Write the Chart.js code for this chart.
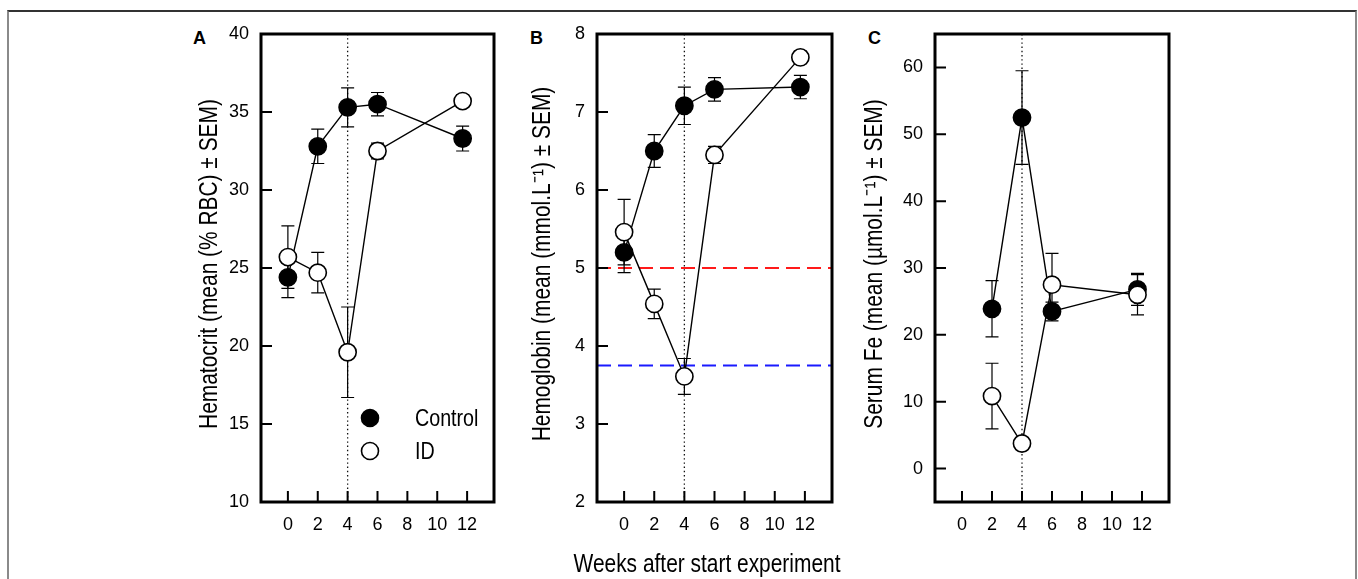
<!DOCTYPE html>
<html>
<head>
<meta charset="utf-8">
<script src="https://cdn.jsdelivr.net/npm/chart.js@4.4.1/dist/chart.umd.min.js"></script>
<style>
  body { margin: 0; background: #fff; font-family: 'Liberation Sans', Arial, sans-serif; }
  #marco { position: absolute; left: 7px; top: 10px; width: 1346px; height: 600px;
           border-top: 2px solid #333; border-left: 2px solid #8a8a8a; border-right: 2px solid #8a8a8a; }
  canvas { position: absolute; top: 0; }
  .letra { position: absolute; top: 29px; font-weight: bold; font-size: 18px; line-height: 18px; }
  #tituloX { position: absolute; top: 551px; left: 507px; width: 400px; text-align: center;
             font-size: 25.5px; line-height: 25.5px; white-space: nowrap;
             transform: scaleX(0.82); transform-origin: 50% 50%; }
</style>
</head>
<body>
<div id="marco"></div>
<div class="letra" style="left:193px">A</div>
<div class="letra" style="left:530px">B</div>
<div class="letra" style="left:868px">C</div>
<canvas id="graficaHematocrito" width="360" height="579" style="left:150px"></canvas>
<canvas id="graficaHemoglobina" width="350" height="579" style="left:510px"></canvas>
<canvas id="graficaHierro" width="330" height="579" style="left:860px"></canvas>
<div id="tituloX">Weeks after start experiment</div>
<script>
// semanas del experimento (la ultima medida cae un poco antes de la semana 12)
const semanas = [0, 2, 4, 6, 11.7];
const semanasHierro = [2, 4, 6, 11.7];
const ticksSemanas = [0, 2, 4, 6, 8, 10, 12];
const semanaCambio = 4;

const hematocritoControl = [24.4, 32.8, 35.3, 35.5, 33.3];
const hematocritoControlSem = [1.3, 1.1, 1.25, 0.75, 0.8];
const hematocritoId = [25.7, 24.7, 19.6, 32.5, 35.7];
const hematocritoIdSem = [2.0, 1.3, 2.9, 0.5, 0.4];
const ticksHematocrito = [10, 15, 20, 25, 30, 35, 40];

const hemoglobinaControl = [5.2, 6.5, 7.08, 7.29, 7.32];
const hemoglobinaControlSem = [0.26, 0.21, 0.24, 0.15, 0.15];
const hemoglobinaId = [5.46, 4.54, 3.61, 6.45, 7.7];
const hemoglobinaIdSem = [0.42, 0.19, 0.23, 0.11, 0.08];
const ticksHemoglobina = [2, 3, 4, 5, 6, 7, 8];
const umbralesHemoglobina = [5.0, 3.75];
const coloresUmbral = ['#ff1a1a', '#1a1aff'];

const hierroControl = [23.9, 52.5, 23.5, 26.8];
const hierroControlSem = [4.2, 7.0, 1.4, 2.4];
const hierroId = [10.85, 3.75, 27.5, 26.0];
const hierroIdSem = [4.9, 0.8, 4.7, 3.0];
const ticksHierro = [0, 10, 20, 30, 40, 50, 60];

const fuente = "'Liberation Sans', Arial, sans-serif";

// texto estrecho (el original usa una letra condensada en titulos y leyenda)
function textoEstrecho(ctx, texto, x, y, tam, giro, alineado) {
  ctx.save();
  ctx.translate(x, y);
  if (giro) ctx.rotate(-Math.PI / 2);
  ctx.scale(0.82, 1);
  ctx.font = tam + 'px ' + fuente;
  ctx.textAlign = alineado;
  ctx.textBaseline = 'middle';
  ctx.fillStyle = '#000';
  ctx.fillText(texto, 0, 0);
  ctx.restore();
}

// lineas de referencia, barras de error, marco, ticks hacia dentro, titulo y leyenda
const decoracion = {
  id: 'decoracion',
  beforeDatasetsDraw(chart, args, opts) {
    const { ctx, chartArea: a, scales: { x, y } } = chart;
    ctx.save();
    ctx.beginPath();
    ctx.rect(a.left, a.top, a.width, a.height);
    ctx.clip();

    (opts.umbrales || []).forEach((v, i) => {
      const py = y.getPixelForValue(v);
      ctx.strokeStyle = opts.colores[i];
      ctx.lineWidth = 2;
      ctx.setLineDash([14, 7]);
      ctx.beginPath();
      ctx.moveTo(a.left, py);
      ctx.lineTo(a.right, py);
      ctx.stroke();
    });

    const px = x.getPixelForValue(semanaCambio);
    ctx.strokeStyle = '#111';
    ctx.lineWidth = 1.3;
    ctx.setLineDash([1.4, 2.8]);
    ctx.beginPath();
    ctx.moveTo(px, a.top);
    ctx.lineTo(px, a.bottom);
    ctx.stroke();

    ctx.setLineDash([]);
    ctx.strokeStyle = '#000';
    ctx.lineWidth = 1.2;
    chart.data.datasets.forEach(ds => {
      ds.data.forEach((p, i) => {
        const e = ds.errores[i];
        const cx = x.getPixelForValue(p.x);
        const y1 = y.getPixelForValue(p.y + e);
        const y2 = y.getPixelForValue(p.y - e);
        ctx.beginPath();
        ctx.moveTo(cx, y1); ctx.lineTo(cx, y2);
        ctx.moveTo(cx - 6.5, y1); ctx.lineTo(cx + 6.5, y1);
        ctx.moveTo(cx - 6.5, y2); ctx.lineTo(cx + 6.5, y2);
        ctx.stroke();
      });
    });
    ctx.restore();
  },
  afterDraw(chart, args, opts) {
    const { ctx, chartArea: a, scales: { x, y } } = chart;
    ctx.save();
    ctx.strokeStyle = '#000';
    ctx.lineWidth = 2;
    ctx.beginPath();
    ticksSemanas.forEach(v => {
      const px = x.getPixelForValue(v);
      ctx.moveTo(px, a.bottom);
      ctx.lineTo(px, a.bottom - 11);
    });
    y.ticks.forEach(t => {
      const py = y.getPixelForValue(t.value);
      ctx.moveTo(a.left, py);
      ctx.lineTo(a.left + 11, py);
    });
    ctx.stroke();

    ctx.lineWidth = 3;
    ctx.strokeRect(a.left, a.top, a.width, a.height);

    textoEstrecho(ctx, opts.titulo, opts.centroTitulo, (a.top + a.bottom) / 2 - 4, 25.5, true, 'center');

    if (opts.leyenda) {
      const lx = a.left + 109;
      const filas = [{ texto: 'Control', relleno: '#000', dy: 384 }, { texto: 'ID', relleno: '#fff', dy: 417 }];
      filas.forEach(f => {
        ctx.beginPath();
        ctx.arc(lx, a.top + f.dy, 8.5, 0, Math.PI * 2);
        ctx.fillStyle = f.relleno;
        ctx.fill();
        ctx.lineWidth = 1.6;
        ctx.stroke();
        textoEstrecho(ctx, f.texto, lx + 45, a.top + f.dy + 1, 24, false, 'left');
      });
    }
    ctx.restore();
  }
};

function serie(etiqueta, xs, ys, errores, relleno, orden) {
  return {
    label: etiqueta,
    data: xs.map((v, i) => ({ x: v, y: ys[i] })),
    errores: errores,
    showLine: true,
    borderColor: '#000',
    borderWidth: 1.4,
    pointRadius: 8.6,
    pointBackgroundColor: relleno,
    pointBorderColor: '#000',
    pointBorderWidth: 1.6,
    order: orden
  };
}

function crearGrafica(canvasId, cfg) {
  const ctx = document.getElementById(canvasId).getContext('2d');
  return new Chart(ctx, {
    type: 'scatter',
    data: {
      datasets: [
        serie('Control', cfg.semanas, cfg.control, cfg.controlSem, '#000', 2),
        serie('ID', cfg.semanas, cfg.id, cfg.idSem, '#fff', 1)
      ]
    },
    options: {
      responsive: false,
      animation: false,
      events: [],
      layout: { padding: { left: 0, right: cfg.padDer, top: 34, bottom: 0 } },
      plugins: {
        legend: { display: false },
        tooltip: { enabled: false },
        decoracion: {
          umbrales: cfg.umbrales, colores: coloresUmbral, leyenda: cfg.leyenda,
          titulo: cfg.titulo, centroTitulo: cfg.centroTitulo
        }
      },
      scales: {
        x: {
          type: 'linear',
          min: -1.8,
          max: 13.8,
          afterBuildTicks: s => { s.ticks = ticksSemanas.map(v => ({ value: v })); },
          afterFit: s => { s.height = 77; },
          grid: { display: false, drawTicks: false },
          border: { display: false },
          ticks: { padding: 12, color: '#000', font: { family: fuente, size: 18 } }
        },
        y: {
          type: 'linear',
          min: cfg.min,
          max: cfg.max,
          afterBuildTicks: s => { s.ticks = cfg.ticks.map(v => ({ value: v })); },
          afterFit: s => { s.width = cfg.bordeIzq; },
          grid: { display: false, drawTicks: false },
          border: { display: false },
          ticks: { padding: 12, color: '#000', font: { family: fuente, size: 18 } }
        }
      }
    },
    plugins: [decoracion]
  });
}

crearGrafica('graficaHematocrito', {
  semanas: semanas, control: hematocritoControl, controlSem: hematocritoControlSem,
  id: hematocritoId, idSem: hematocritoIdSem, ticks: ticksHematocrito, min: 10, max: 40,
  titulo: 'Hematocrit (mean (% RBC) \u00b1 SEM)', centroTitulo: 60, bordeIzq: 111, padDer: 16,
  umbrales: [], leyenda: true
});

crearGrafica('graficaHemoglobina', {
  semanas: semanas, control: hemoglobinaControl, controlSem: hemoglobinaControlSem,
  id: hemoglobinaId, idSem: hemoglobinaIdSem, ticks: ticksHemoglobina, min: 2, max: 8,
  titulo: 'Hemoglobin (mean (mmol.L\u207b\u00b9) \u00b1 SEM)', centroTitulo: 32.5, bordeIzq: 87, padDer: 28,
  umbrales: umbralesHemoglobina, leyenda: false
});

crearGrafica('graficaHierro', {
  semanas: semanasHierro, control: hierroControl, controlSem: hierroControlSem,
  id: hierroId, idSem: hierroIdSem, ticks: ticksHierro, min: -5, max: 65,
  titulo: 'Serum Fe (mean (\u00b5mol.L\u207b\u00b9) \u00b1 SEM)', centroTitulo: 15, bordeIzq: 75, padDer: 21,
  umbrales: [], leyenda: false
});
</script>
</body>
</html>
